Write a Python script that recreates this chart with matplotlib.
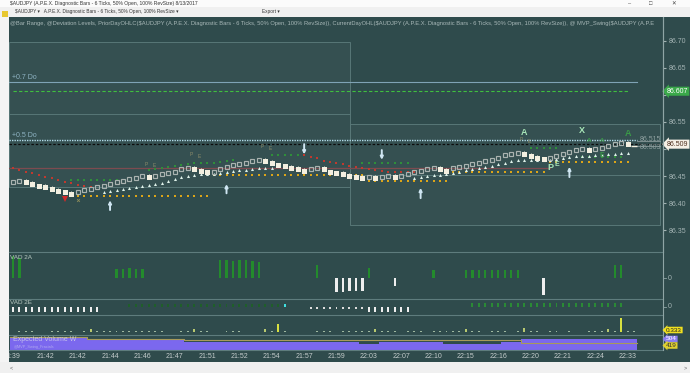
import matplotlib
matplotlib.use("Agg")
import matplotlib.pyplot as plt
from matplotlib.lines import Line2D
from matplotlib.patches import Rectangle

plt.rcParams["font.family"] = ["Liberation Sans", "DejaVu Sans"]

W, H = 690, 373
BG = "#2f4b4c"
SEP = "#5e7c7d"
AXTXT = "#a3b3b3"

# ---------------- data ----------------
# close of every diagnostic bar, h = up (hollow), f = down (filled), d = forming bar
bar_close = [86.439, 86.441, 86.439, 86.435, 86.431, 86.430, 86.426, 86.422, 86.420, 86.417,
             86.420, 86.424, 86.426, 86.430, 86.431, 86.435, 86.439, 86.441, 86.444, 86.446,
             86.450, 86.448, 86.450, 86.454, 86.455, 86.457, 86.463, 86.465, 86.463, 86.459,
             86.457, 86.457, 86.463, 86.467, 86.470, 86.472, 86.474, 86.478, 86.480, 86.478,
             86.474, 86.470, 86.468, 86.465, 86.463, 86.459, 86.463, 86.465, 86.463, 86.457,
             86.455, 86.454, 86.450, 86.448, 86.446, 86.448, 86.446, 86.448, 86.450, 86.448,
             86.450, 86.454, 86.457, 86.459, 86.463, 86.465, 86.463, 86.459, 86.465, 86.467,
             86.468, 86.472, 86.474, 86.478, 86.480, 86.483, 86.489, 86.491, 86.492, 86.491,
             86.487, 86.483, 86.481, 86.483, 86.487, 86.491, 86.494, 86.498, 86.500, 86.498,
             86.500, 86.502, 86.505, 86.509, 86.511, 86.509, 86.505]
bar_kind = ("hh" + "ffffffff" + "hhhhhhhhhhh" + "f" + "hhhhhh" + "fff" + "hhhhhhhh"
            + "fffffff" + "hh" + "fffffff" + "h" + "f" + "hh" + "f" + "hhhhhh" + "ff"
            + "hhhhhhhhhhh" + "ffff" + "hhhhhh" + "f" + "hhhhh" + "f" + "d")

time_labels = ["1:39", "21:42", "21:42", "21:44", "21:46", "21:47", "21:51", "21:52",
               "21:54", "21:57", "21:59", "22:03", "22:07", "22:10", "22:15", "22:16",
               "22:20", "22:21", "22:24", "22:33"]
price_ticks = [86.35, 86.40, 86.45, 86.50, 86.55, 86.60, 86.65, 86.70]
price_tick_labels = ["86.35", "86.40", "86.45", "", "86.55", "", "86.65", "86.70"]

level_07 = 86.624
level_05 = 86.516
level_green = 86.607
level_last = 86.509
level_prior = 86.465

# swing support rows (first bar, last bar, price)
yellow_rows = [(10, 30, 86.413), (31, 54, 86.452), (55, 67, 86.441), (68, 82, 86.457), (83, 95, 86.476)]
green_rows = [(9, 16, 86.443), (40, 44, 86.489), (54, 61, 86.474), (80, 84, 86.502), (88, 94, 86.485)]
green_rise_start = 21
green_rise = [86.461, 86.463, 86.465, 86.467, 86.468, 86.470, 86.472, 86.474, 86.474, 86.474,
              86.474, 86.476, 86.478, 86.480]

tri1_start = 14
tri1 = [86.420, 86.422, 86.424, 86.426, 86.428, 86.430, 86.431, 86.433, 86.435, 86.437,
        86.441, 86.444, 86.448, 86.450, 86.452, 86.454, 86.454, 86.454, 86.455, 86.457,
        86.459, 86.461, 86.461, 86.463, 86.465, 86.465, 86.465]
tri2_start = 62
tri2 = [86.446, 86.448, 86.450, 86.452, 86.452, 86.454, 86.455, 86.457, 86.461, 86.463,
        86.465, 86.467, 86.468, 86.472, 86.474, 86.478, 86.480, 86.480, 86.480, 86.480,
        86.480, 86.480, 86.481, 86.483, 86.485, 86.487, 86.487, 86.487, 86.489, 86.489,
        86.491, 86.491, 86.492, 86.492]

red1_start = 0
red1 = [86.465, 86.461, 86.457, 86.455, 86.452, 86.448, 86.446, 86.443, 86.439, 86.437,
        86.433, 86.431, 86.430]
red2_start = 45
red2 = [86.489, 86.485, 86.483, 86.478, 86.476, 86.474, 86.472, 86.468, 86.467, 86.465,
        86.463, 86.461, 86.459, 86.457, 86.457, 86.457, 86.457, 86.457]

up_arrows = [(15, 86.387, 86.405), (33, 86.418, 86.435), (63, 86.409, 86.428), (86, 86.448, 86.467)]
down_arrows = [(45, 86.509, 86.490), (57, 86.498, 86.480)]

letters = [("A", 79, 86.531, "#a8e6b8", 6.5), ("X", 88, 86.535, "#a8e6b8", 6.5),
           ("A", 95, 86.528, "#3a9a48", 6.5), ("A", 89, 86.516, "#3a9a48", 4.5),
           ("A", 91, 86.516, "#3a9a48", 4.5), ("P", 83, 86.465, "#a8e6b8", 6.5),
           ("E", 84, 86.472, "#a8e6b8", 5), ("E", 91, 86.488, "#3a9a48", 5)]
pe_marks = [(21, 86.472), (28, 86.489), (39, 86.504), (79, 86.517)]

# bar range boxes: (first bar, last bar, low, mid, high)
box_left = (-0.6, 52.1, 86.430, 86.565, 86.698)
box_right = (52.1, 100.0, 86.359, 86.452, 86.546)

vad2a_bars = [0, 1, 16, 17, 18, 19, 20, 32, 33, 34, 35, 36, 37, 38, 47, 50, 51, 52, 53, 54,
              55, 59, 65, 70, 71, 72, 73, 74, 75, 76, 77, 78, 82, 93, 94]
vad2a_vals = [22, 20, 9, 9, 10, 9, 9, 18, 18, 17, 18, 18, 17, 16, 13, -14, -14, -13, -13, -13,
              10, -8, 8, 8, 8, 8, 8, 8, 8, 8, 8, 8, -17, 13, 13]

# VAD 2E rows (first bar, last bar, value, colour)
vad2e_rows = [(0, 13, -5, "#eeeeee"), (18, 41, 3, "#1f5f2a"), (42, 42, 3, "#40e0e0"),
              (46, 54, -1.5, "#dddddd"), (55, 61, -5, "#eeeeee"), (71, 94, 4, "#2a8a35")]

osc_bars = [1, 2, 3, 6, 7, 8, 9, 11, 12, 13, 14, 15, 16, 17, 18, 19, 20, 21, 22, 23, 26, 27,
            28, 29, 30, 33, 34, 35, 39, 40, 41, 42, 47, 48, 49, 51, 52, 53, 54, 55, 56, 57, 58,
            59, 61, 62, 63, 65, 66, 67, 68, 69, 70, 71, 72, 74, 75, 76, 78, 79, 80, 81, 83, 84,
            86, 89, 90, 91, 92, 93, 94, 95, 96]
osc_vals = [1, 1, 1, 1, 1, 1, 1, 1, 3, 1, 1, 1, 1, 1, 1, 1, 1, 1, 1, 1, 1, 1,
            3, 1, 1, 1, 1, 1, 3, 1, 8, 1, 1, 1, 1, 1, 1, 1, 1, 1, 3, 1, 1,
            1, 1, 1, 1, 1, 1, 1, 1, 1, 3, 1, 1, 1, 1, 1, 1, 4, 1, 1, 1, 1,
            1, 1, 1, 1, 3, 1, 14, 1, 1]

vol_purple = [(0, 11, 13), (12, 26, 10), (27, 53, 8), (54, 56, 6), (57, 66, 8), (67, 75, 6),
              (76, 78, 8), (79, 96, 11)]
vol_olive = [(0, 11, 13), (12, 26, 11), (27, 78, 10), (79, 96, 7)]

# ---------------- layout ----------------
X0PX, DXPX = 13, 6.47
XLIM = ((9 - X0PX) / DXPX, (663 - X0PX) / DXPX)

fig = plt.figure(figsize=(6.9, 3.73), dpi=100, facecolor=BG)


def px_axes(x0, y0, x1, y1):
    a = fig.add_axes([x0 / W, 1 - y1 / H, (x1 - x0) / W, (y1 - y0) / H])
    a.set_facecolor(BG)
    a.set_xlim(XLIM)
    for s in a.spines.values():
        s.set_visible(False)
    a.set_xticks([])
    a.set_yticks([])
    return a


def fig_rect(x0, y0, x1, y1, color):
    fig.patches.append(Rectangle((x0 / W, 1 - y1 / H), (x1 - x0) / W, (y1 - y0) / H,
                                 transform=fig.transFigure, fc=color, ec="none", zorder=0))


def fig_line(x0, y0, x1, y1, color, lw=0.8):
    fig.add_artist(Line2D([x0 / W, x1 / W], [1 - y0 / H, 1 - y1 / H], color=color, lw=lw))


# ---------------- main price panel ----------------
ax = px_axes(9, 17, 663, 252)
ax.set_ylim(86.3093, 86.7444)
ax.yaxis.tick_right()
ax.set_yticks(price_ticks)
ax.set_yticklabels(price_tick_labels)
ax.tick_params(axis="y", colors=AXTXT, labelsize=5, length=2, pad=2)
ax.spines["right"].set_visible(True)
ax.spines["right"].set_color("#8fa5a5")

for b in (box_left, box_right):
    ax.add_patch(Rectangle((b[0], b[2]), b[1] - b[0], b[4] - b[2], fc="white", alpha=0.03, ec="none"))
    ax.add_patch(Rectangle((b[0], b[2]), b[1] - b[0], b[4] - b[2], fc="none", ec="#587777", lw=0.7))
    ax.plot([b[0], b[1]], [b[3], b[3]], color="#587777", lw=0.7)

ax.plot([XLIM[0], 96.4], [level_07, level_07], color="#7fa3b5", lw=0.8)
ax.plot([0, 95], [level_green, level_green], color="#3fbf3f", lw=0.8, dashes=(3, 2))
ax.plot([XLIM[0], 96.4], [level_05, level_05], color="#b0d8e6", lw=1.0, dashes=(1, 0.8))
ax.plot([96.4, 100], [level_05 - 0.002, level_05 - 0.002], color="#8a9a9a", lw=0.6)
ax.plot([96.4, 100], [level_last - 0.003, level_last - 0.003], color="#8a9a9a", lw=0.6)
ax.plot(XLIM, [level_last, level_last], color="#0c0c0c", lw=0.9, dashes=(2, 1.5))
ax.plot([XLIM[0], 83], [level_prior, level_prior], color="#7d4b50", lw=0.9)

ax.text(-0.2, level_07 + 0.002, "+0.7 Do", color="#8fb4c4", fontsize=5, va="bottom")
ax.text(-0.2, level_05 + 0.002, "+0.5 Do", color="#8fb4c4", fontsize=5, va="bottom")
ax.text(96.8, level_05 + 0.001, "86.515", color="#8fa0a0", fontsize=5, va="center")
ax.text(96.8, level_last - 0.006, "86.503", color="#8fa0a0", fontsize=5, va="center")
ax.text(0.002, 0.985, "@Bar Range, @Deviation Levels, PriorDayOHLC($AUDJPY (A.P.E.X. Diagnostic Bars - "
        "6 Ticks, 50% Open, 100% RevSize)), CurrentDayOHL($AUDJPY (A.P.E.X. Diagnostic Bars - 6 Ticks, "
        "50% Open, 100% RevSize)), @ MVP_Swing($AUDJPY (A.P.E",
        transform=ax.transAxes, color="#a8b8b8", fontsize=4.12, va="top", ha="left")

# swing rows
for a0, a1, p in yellow_rows:
    xs = list(range(a0, a1 + 1))
    ax.plot(xs, [p] * len(xs), ls="none", marker="s", ms=2.0, color="#dca518", mew=0)
for a0, a1, p in green_rows:
    xs = list(range(a0, a1 + 1))
    ax.plot(xs, [p] * len(xs), ls="none", marker="s", ms=1.7, color="#2f8f3a", mew=0)
ax.plot(range(green_rise_start, green_rise_start + len(green_rise)), green_rise,
        ls="none", marker="s", ms=1.7, color="#2f8f3a", mew=0)
ax.plot(range(red1_start, red1_start + len(red1)), red1, ls="none", marker="s", ms=2,
        color="#c0392e", mew=0)
ax.plot(range(red2_start, red2_start + len(red2)), red2, ls="none", marker="s", ms=2,
        color="#c0392e", mew=0)
ax.plot(range(tri1_start, tri1_start + len(tri1)), tri1, ls="none", marker="^", ms=2.2,
        color="#dff2ea", mew=0)
ax.plot(range(tri2_start, tri2_start + len(tri2)), tri2, ls="none", marker="^", ms=2.2,
        color="#dff2ea", mew=0)

# bars
up_x = [i for i, k in enumerate(bar_kind) if k == "h"]
dn_x = [i for i, k in enumerate(bar_kind) if k == "f"]
ax.plot(up_x, [bar_close[i] for i in up_x], ls="none", marker="s", ms=3.5, mfc="none",
        mec="#aab3b0", mew=0.85)
ax.vlines(dn_x, [bar_close[i] for i in dn_x], [bar_close[i] + 0.005 for i in dn_x],
          color="#f3efe0", lw=0.6)
ax.plot(dn_x, [bar_close[i] for i in dn_x], ls="none", marker="s", ms=3.6, color="#f3efe0", mew=0)
last = len(bar_close) - 1
ax.plot([last], [bar_close[last]], ls="none", marker="_", ms=4, color="#f3efe0", mew=1)

ax.plot([8], [86.407], ls="none", marker="v", ms=4, color="#d02a2a", mew=0)
ax.plot([10], [86.405], ls="none", marker="x", ms=2, color="#8c8c5a", mew=0.6)

for i, lo, hi in up_arrows + down_arrows:
    ax.annotate("", xy=(i, hi), xytext=(i, lo),
                arrowprops=dict(arrowstyle="-|>", color="#cfe6f2", lw=1.4, mutation_scale=4,
                                shrinkA=0, shrinkB=0))

for t, i, p, c, fs in letters:
    ax.text(i, p, t, color=c, fontsize=fs, ha="center", va="center", fontweight="bold")
for i, p in pe_marks:
    ax.text(i - 0.4, p, "P", color="#8c8c6a", fontsize=3.5, ha="center", va="center")
    ax.text(i + 0.8, p - 0.003, "E", color="#8c8c6a", fontsize=3.5, ha="center", va="center")

ytr = ax.get_yaxis_transform()
ax.text(1.006, level_green, "86.607", transform=ytr, fontsize=5, color="white", va="center",
        bbox=dict(boxstyle="larrow,pad=0.15", fc="#3aa84a", ec="none"), clip_on=False)
ax.text(1.006, level_last, "86.509", transform=ytr, fontsize=5, color="#503020", va="center",
        bbox=dict(boxstyle="larrow,pad=0.15", fc="#f6f1e7", ec="none"), clip_on=False)

# ---------------- VAD 2A ----------------
ax2 = px_axes(9, 252, 663, 299)
ax2.set_ylim(-21, 26)
ax2.bar(vad2a_bars, vad2a_vals, width=0.35,
        color=["#238b2c" if v > 0 else "#eeeeee" for v in vad2a_vals])
ax2.text(0.002, 0.93, "VAD 2A", transform=ax2.transAxes, color="#b8c8c0", fontsize=4.6, va="top")

# ---------------- VAD 2E ----------------
ax3 = px_axes(9, 299, 663, 315)
ax3.set_ylim(-8, 8)
for a0, a1, v, c in vad2e_rows:
    xs = list(range(a0, a1 + 1))
    ax3.bar(xs, [v] * len(xs), width=0.3, color=c)
ax3.text(0.002, 0.95, "VAD 2E", transform=ax3.transAxes, color="#b8c8c0", fontsize=4.6, va="top")

# ---------------- oscillator ----------------
ax4 = px_axes(9, 315, 663, 335)
ax4.set_ylim(-3, 17)
ax4.bar(osc_bars, osc_vals, width=0.3,
        color=["#d8e040" if v > 5 else ("#b8c870" if v > 1 else "#9fb8a0") for v in osc_vals])

# ---------------- volume ----------------
ax5 = px_axes(9, 335, 663, 350)
ax5.set_ylim(0, 15)
for a0, a1, v in vol_purple:
    ax5.fill_between([a0 - 0.5, a1 + 0.5], 0, v, color="#7b68ee", lw=0)
ox, oy = [], []
for a0, a1, v in vol_olive:
    ox += [a0 - 0.5, a1 + 0.5]
    oy += [v, v]
ax5.plot(ox, oy, color="#a89a5a", lw=0.8)
ax5.text(0.006, 0.93, "Expected Volume W", transform=ax5.transAxes, color="#d8d8e8",
         fontsize=5, va="top", alpha=0.8)
ax5.text(0.008, 0.22, "@MVP_Swing_Fractals", transform=ax5.transAxes, color="#b0a8f0",
         fontsize=2.8, va="center")

# ---------------- time axis ----------------
axt = px_axes(9, 350, 663, 362)
axt.set_ylim(0, 1)
for k, lab in enumerate(time_labels):
    axt.text(5 * k, 0.45, lab, color="#c4cccc", fontsize=5, ha="center", va="center")

# ---------------- separators, right labels ----------------
for y in (252, 299, 315, 335, 350):
    fig_line(9, y, 663, y, SEP, 0.8)
fig_line(663, 17, 663, 350, "#8fa5a5", 0.8)
for y in (278, 307):
    fig.text(668 / W, 1 - y / H, "0", color=AXTXT, fontsize=5, va="center")
    fig_line(663, y, 666, y, "#8fa5a5", 0.6)
fig.text(666 / W, 1 - 330 / H, "0.333", fontsize=4.6, color="#202020", va="center",
         bbox=dict(boxstyle="larrow,pad=0.12", fc="#f0e020", ec="none"))
fig.text(666 / W, 1 - 339 / H, "504", fontsize=4.6, color="white", va="center",
         bbox=dict(boxstyle="larrow,pad=0.12", fc="#8a7cf0", ec="none"))
fig.text(666 / W, 1 - 345.5 / H, "419", fontsize=4.6, color="#303030", va="center",
         bbox=dict(boxstyle="larrow,pad=0.12", fc="#e0d030", ec="none"))

# ---------------- window chrome ----------------
fig_rect(0, 0, 690, 7, "#fbfbfb")
fig_rect(0, 7, 690, 17, "#f0f0f0")
fig_rect(0, 17, 9, 362, "#f4f4f4")
fig_rect(0, 362, 690, 373, "#f0f0f0")
fig_rect(2, 11, 8, 17, "#e8c830")
fig.text(10 / W, 1 - 3.5 / H, "$AUDJPY (A.P.E.X. Diagnostic Bars - 6 Ticks, 50% Open, 100% RevSize) 8/13/2017",
         fontsize=3.6, color="#333333", va="center")
fig.text(15 / W, 1 - 11.5 / H, "$AUDJPY \u25be   A.P.E.X. Diagnostic Bars - 6 Ticks, 50% Open, 100% RevSize \u25be",
         fontsize=3.4, color="#333333", va="center")
fig.text(262 / W, 1 - 11.5 / H, "Export \u25be", fontsize=3.4, color="#333333", va="center")
for xx, s in ((630, "\u2013"), (651, "\u25a1"), (674, "\u2715")):
    fig.text(xx / W, 1 - 3.5 / H, s, fontsize=4, color="#444444", va="center", ha="center")
fig.text(10 / W, 1 - 368 / H, "<", fontsize=4, color="#666666", va="center")
fig.text(684 / W, 1 - 368 / H, ">", fontsize=4, color="#666666", va="center")

# left tool icons
axl = fig.add_axes([0, 11 / H, 9 / W, 351 / H])
axl.set_xlim(0, 9)
axl.set_ylim(362, 11)
axl.axis("off")
icon_y = [20, 30, 39, 47, 55, 64, 70, 82, 91, 99, 109, 117, 126, 134, 143, 154, 161, 170, 178, 186, 195, 204, 214]
icon_m = ["_", "_", "_", "_", "_", "|", "_", "s", "s", "o", "o", "s", "^", "_", "|", "^", "v", "P", "o", "s", "^", "v", "s"]
icon_c = ["#222", "#222", "#222", "#222", "#222", "#222", "#222", "#444", "#999", "#bbb", "#222", "#222",
          "#222", "#222", "#222", "#2a9a3a", "#c03030", "#222", "#222", "#222", "#2a9a3a", "#c03030", "#b07050"]
for y, m, c in zip(icon_y, icon_m, icon_c):
    filled = c in ("#2a9a3a", "#c03030", "#b07050", "#999") or m in ("P",) or y in (178, 186)
    axl.plot([4.5], [y], marker=m, ms=3, mfc=c if filled else "none", mec=c, color=c, mew=0.8)

fig.savefig("out.png", dpi=100, facecolor=fig.get_facecolor())
